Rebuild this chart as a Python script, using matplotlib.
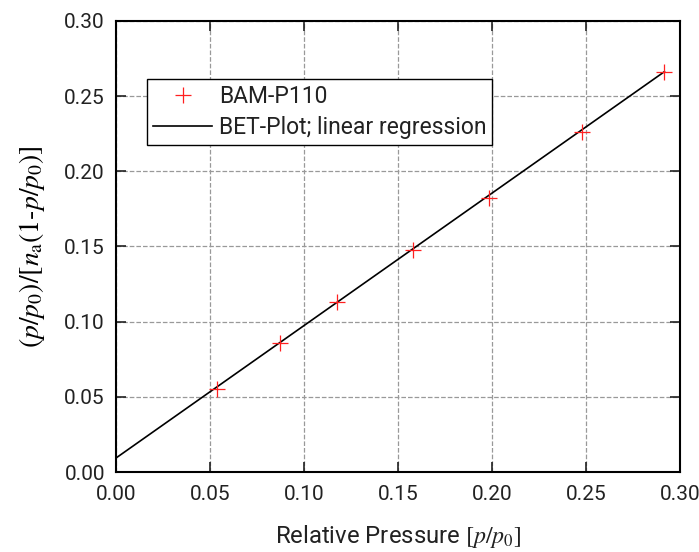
import numpy as np
import matplotlib
matplotlib.use('Agg')
import matplotlib.pyplot as plt

# BET data
rel_pressure = [0.0535, 0.0872, 0.1176, 0.1578, 0.1986, 0.2477, 0.2917]
bet_values = [0.0551, 0.0858, 0.1133, 0.1476, 0.1824, 0.2262, 0.2662]
fit_slope = 0.881
fit_intercept = 0.0093

x_ticks = [0.00, 0.05, 0.10, 0.15, 0.20, 0.25, 0.30]
y_ticks = [0.00, 0.05, 0.10, 0.15, 0.20, 0.25, 0.30]

plt.rcParams['font.family'] = ['Roboto', 'DejaVu Sans']
plt.rcParams['mathtext.fontset'] = 'stix'

fig = plt.figure(figsize=(6.99, 5.52), dpi=100)
ax = fig.add_axes([116 / 699, 80 / 552, 564 / 699, 451 / 552])

x_fit = np.array([0.0, rel_pressure[-1]])
ax.plot(rel_pressure, bet_values, linestyle='none', marker='+', color='#ff2020',
        markersize=11, markeredgewidth=0.9, label='BAM-P110', zorder=3)
ax.plot(x_fit, fit_slope * x_fit + fit_intercept, color='black', linewidth=1.2,
        label='BET-Plot; linear regression', zorder=2)

ax.set_xlim(0, 0.30)
ax.set_ylim(0, 0.30)
ax.set_xticks(x_ticks)
ax.set_yticks(y_ticks)
ax.set_xticklabels([f'{v:.2f}' for v in x_ticks])
ax.set_yticklabels([f'{v:.2f}' for v in y_ticks])
ax.tick_params(direction='in', top=True, right=True, length=7, width=1.2,
               labelsize=15, colors='#222222')
ax.tick_params(axis='x', pad=9)
ax.tick_params(axis='y', pad=8)
for s in ax.spines.values():
    s.set_linewidth(1.5)
ax.grid(True, linestyle='--', color='#999999', linewidth=0.9)
ax.set_axisbelow(True)

ax.set_xlabel(r'Relative Pressure $[p/p_0]$', fontsize=17.2, labelpad=14,
              color='#222222')
ax.set_ylabel(r'$(p/p_0)/[n_{\rm a}(1\text{-}p/p_0)]$', fontsize=20, labelpad=12)

leg = ax.legend(loc='upper left', bbox_to_anchor=(0.055, 0.871), fontsize=16.5,
                frameon=True, fancybox=False, edgecolor='black', framealpha=1,
                borderpad=0.25, borderaxespad=0, handlelength=2.6,
                handletextpad=0.3, labelspacing=0.35)
leg.get_frame().set_linewidth(1.0)
for t in leg.get_texts():
    t.set_color('#222222')

fig.savefig('out.png', dpi=100)
